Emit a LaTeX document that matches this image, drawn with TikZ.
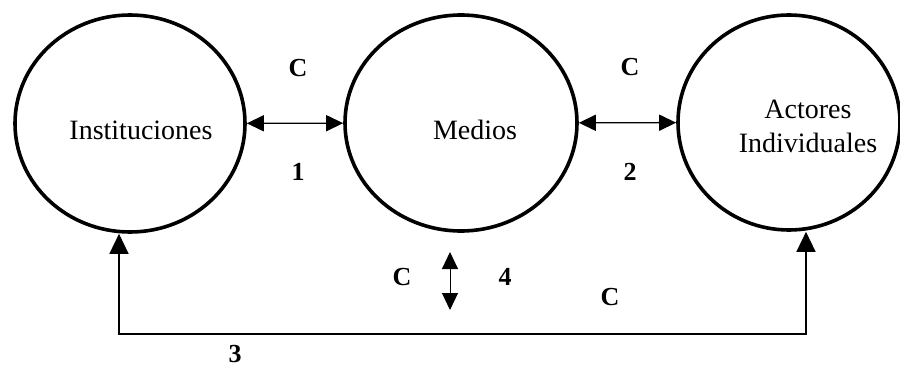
\documentclass[tikz,border=0pt]{standalone}
\usepackage{fontspec}
\setmainfont{Liberation Serif}
\usetikzlibrary{shapes.geometric,arrows.meta}
\begin{document}
\begin{tikzpicture}[x=1pt,y=-1pt,
  actor/.style={ellipse,draw,line width=3.6pt,inner sep=0pt,align=center},
  nametext/.style={font=\fontsize{28}{34}\selectfont,align=center,inner sep=0pt},
  lbl/.style={font=\fontsize{26}{26}\selectfont\bfseries,inner sep=0pt},
  conn/.style={line width=1.4pt,{Triangle[length=17pt,width=16pt]}-{Triangle[length=17pt,width=16pt]}},
  connb/.style={line width=1.4pt,{Triangle[length=20pt,width=19pt]}-{Triangle[length=20pt,width=19pt]}}]
\useasboundingbox (0,0) rectangle (900,369);
\node[actor,minimum width=230pt,minimum height=217pt] (inst) at (130,123.5) {};
\node[nametext] at (141,130) {Instituciones};
\node[actor,minimum width=232pt,minimum height=216pt] (med) at (461,123) {};
\node[nametext] at (475,130) {Medios};
\node[actor,minimum width=222pt,minimum height=215pt] (act) at (789,122.5) {};
\node[nametext] at (808,126) {Actores\\Individuales};
\draw[conn] (inst) -- (med);
\draw[conn] (med) -- (act);
\coordinate (b1) at (119,334);
\coordinate (b2) at (806,334);
\draw[connb] (b1 |- inst.south) -- (b1) -- (b2) -- (b2 |- act.south);
\coordinate (v1) at (450,252);
\coordinate (v2) at (450,310);
\draw[line width=1pt,{Triangle[length=17pt,width=16pt]}-{Triangle[length=17pt,width=16pt]}] (v1) -- (v2);
\node[lbl] at (298,68) {C};
\node[lbl] at (298,172) {1};
\node[lbl] at (630,67) {C};
\node[lbl] at (630,172) {2};
\node[lbl] at (402,277) {C};
\node[lbl] at (505,277) {4};
\node[lbl] at (610,297) {C};
\node[lbl] at (235,354) {3};
\end{tikzpicture}
\end{document}
